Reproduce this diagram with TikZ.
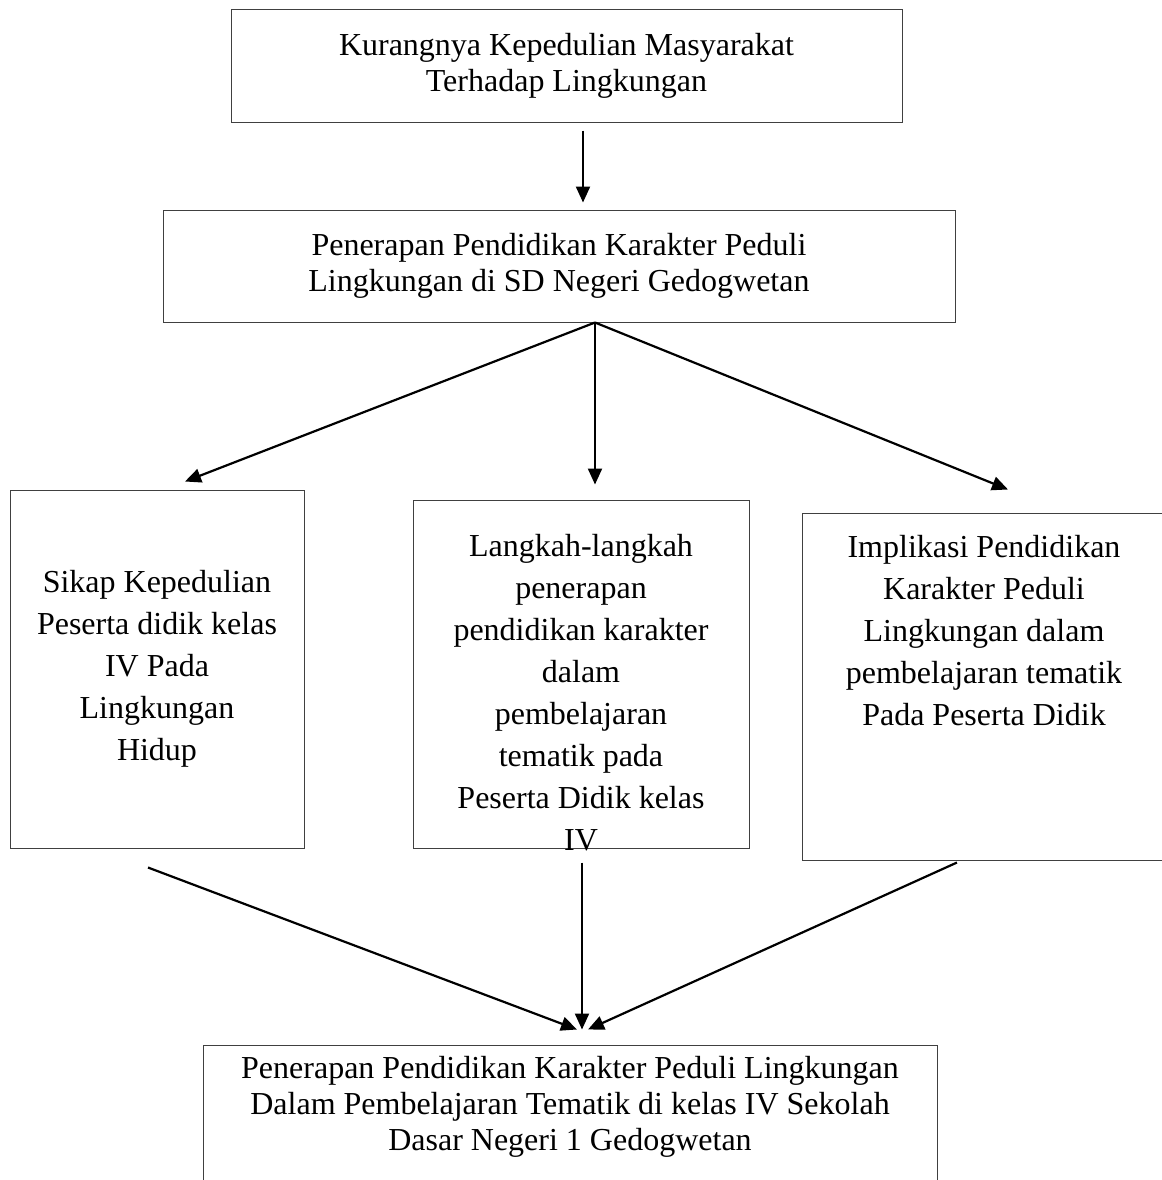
\documentclass[tikz,border=0pt]{standalone}
\usepackage{fontspec}
\setmainfont{Liberation Serif}
\usetikzlibrary{arrows.meta}

\tikzset{
  kotak/.style={draw=black!75, line width=0.5pt, inner sep=0pt, align=center},
  panah/.style={-{Triangle[length=8pt,width=7pt]}, line width=1.1pt, black},
  rapat/.style={font=\fontsize{16}{18}\selectfont},
  renggang/.style={font=\fontsize{16}{21}\selectfont},
}
% isi kotak: lebar, tinggi, jarak atas, teks
\newcommand{\isi}[4]{\parbox[c][#2][t]{#1}{\centering\vspace*{#3}#4}}

\begin{document}
\begin{tikzpicture}[x=0.5pt,y=-0.5pt]
\clip (0,0) rectangle (1162,1180);

\node[kotak, rapat, minimum width=335.5pt, minimum height=56.5pt] (kurang) at (566.5,65.5) {Kurangnya Kepedulian Masyarakat\\Terhadap Lingkungan};
\node[kotak, rapat, minimum width=396pt, minimum height=56pt] (terap) at (559,266) {Penerapan Pendidikan Karakter Peduli\\Lingkungan di SD Negeri Gedogwetan};

\node[kotak, renggang, minimum width=147pt, minimum height=179pt] (sikap) at (157,669) {Sikap Kepedulian\\Peserta didik kelas\\IV Pada\\Lingkungan\\Hidup};
\node[kotak, renggang] (langkah) at (581,674) {\isi{168pt}{174pt}{17pt}{Langkah-langkah\\penerapan\\pendidikan karakter\\dalam\\pembelajaran\\tematik pada\\Peserta Didik kelas\\IV}};
\node[kotak, renggang] (implikasi) at (984,686.5) {\isi{182pt}{173.5pt}{11pt}{Implikasi Pendidikan\\Karakter Peduli\\Lingkungan dalam\\pembelajaran tematik\\Pada Peserta Didik}};

\node[kotak, rapat] (hasil) at (570,1115) {\isi{367pt}{70pt}{5.5pt}{Penerapan Pendidikan Karakter Peduli Lingkungan\\Dalam Pembelajaran Tematik di kelas IV Sekolah\\Dasar Negeri 1 Gedogwetan}};

\draw[panah] ([xshift=8.25pt,yshift=-4pt]kurang.south) -- ([xshift=12pt,yshift=3.5pt]terap.north);

\draw[panah] ([xshift=18pt]terap.south) -- ([xshift=14pt,yshift=4pt]sikap.north);
\draw[panah] ([xshift=18pt]terap.south) -- ([xshift=7pt,yshift=7.5pt]langkah.north);
\draw[panah] ([xshift=18pt]terap.south) -- ([xshift=12pt,yshift=11.5pt]implikasi.north);

\draw[panah] ([xshift=-4.5pt,yshift=-9.5pt]sikap.south) -- ([xshift=3.5pt,yshift=7.5pt]hasil.north);
\draw[panah] ([xshift=0.5pt,yshift=-7pt]langkah.south) -- ([xshift=6pt,yshift=7.5pt]hasil.north);
\draw[panah] ([xshift=-13.5pt,yshift=-1pt]implikasi.south) -- ([xshift=9pt,yshift=7.5pt]hasil.north);

\end{tikzpicture}
\end{document}
